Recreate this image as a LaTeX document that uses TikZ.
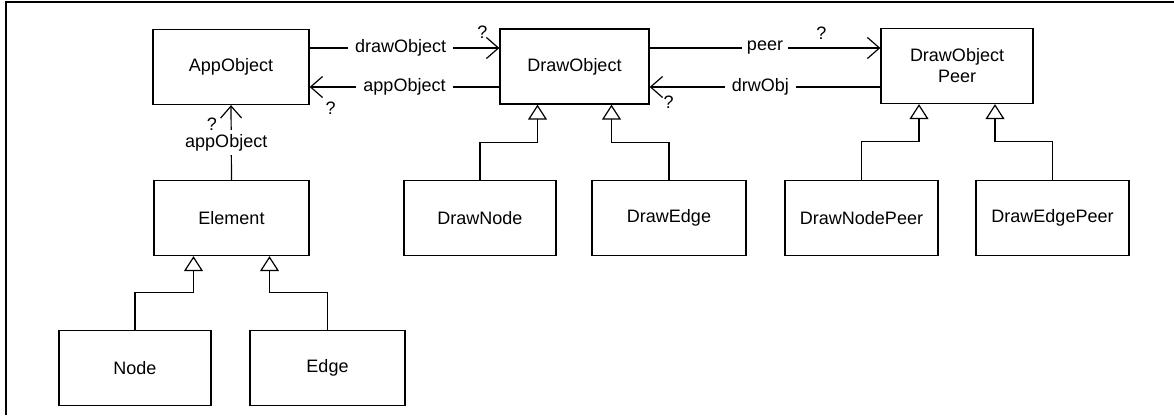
\documentclass[tikz,border=0pt]{standalone}
\usepackage{fontspec}
\setmainfont{Liberation Sans}
\usetikzlibrary{arrows.meta,calc}
\begin{document}
\begin{tikzpicture}[x=1pt,y=-1pt,
  font=\fontsize{18}{21}\selectfont,
  cls/.style={draw, line width=1.3pt, minimum height=75pt, inner sep=2pt, align=center},
  gen/.style={line width=1.2pt, -{Triangle[open,length=15pt,width=19pt,line width=1.2pt]}},
  assoc/.style={line width=1.2pt, -{Straight Barb[length=12pt,width=21pt,line width=1.2pt]}},
  lab/.style={fill=white, inner xsep=7pt, inner ysep=2pt},
  qmark/.style={inner sep=0pt}]
\useasboundingbox (0,0) rectangle (1174,415);

% open frame: top and left edges
\draw[line width=1.8pt] (6,415) -- (6,2) -- (1174,2);

% classes
\node[cls, minimum width=156pt] (app)    at (231,67)    {AppObject};
\node[cls, minimum width=149pt] (dobj)   at (574.5,66.5) {DrawObject};
\node[cls, minimum width=152pt] (peer)   at (957,66)    {DrawObject\\Peer};
\node[cls, minimum width=155pt] (elem)   at (231.5,218) {Element};
\node[cls, minimum width=152pt] (node)   at (135,368)   {Node};
\node[cls, minimum width=155pt] (edge)   at (327.5,368) {Edge};
\node[cls, minimum width=152pt] (dnode)  at (480,218)   {DrawNode};
\node[cls, minimum width=154pt] (dedge)  at (669,218)   {DrawEdge};
\node[cls, minimum width=153pt] (dnpeer) at (861.5,218) {DrawNodePeer};
\node[cls, minimum width=153pt] (depeer) at (1052.5,218) {DrawEdgePeer};

% generalisations
\draw[gen] (node.north)   -- ++(0,-37) -| ($(elem.south)+(-38,0)$);
\draw[gen] (edge.north)   -- ++(0,-37) -| ($(elem.south)+(38,0)$);
\draw[gen] (dnode.north)  -- ++(0,-37) -| ($(dobj.south)+(-37,0)$);
\draw[gen] (dedge.north)  -- ++(0,-37) -| ($(dobj.south)+(37,0)$);
\draw[gen] (dnpeer.north) -- ++(0,-38) -| ($(peer.south)+(-38,0)$);
\draw[gen] (depeer.north) -- ++(0,-38) -| ($(peer.south)+(38,0)$);

% associations
\coordinate (d1) at ($(app.east)+(0,-19)$);
\coordinate (d2) at ($(app.east)+(0,20)$);
\coordinate (p1) at ($(dobj.east)+(0,-18.5)$);
\coordinate (p2) at ($(dobj.east)+(0,20.5)$);

\draw[assoc] (d1) -- node[lab, pos=0.48] {drawObject} (d1 -| dobj.west);
\draw[assoc] (d2 -| dobj.west) -- node[lab] {appObject} (d2);
\draw[assoc] (p1) -- node[lab, inner xsep=5pt] {peer} (p1 -| peer.west);
\draw[assoc] (p2 -| peer.west) -- node[lab, pos=0.52] {drwObj} (p2);
\draw[assoc] (elem.north) -- node[lab, inner xsep=2pt, inner ysep=4pt, xshift=-5pt] {appObject} (app.south);

% multiplicities
\node[qmark] at ($(d1 -| dobj.west)+(-17,-16)$) {?};
\node[qmark] at ($(d2)+(21,21)$) {?};
\node[qmark] at ($(app.south)+(-19,19)$) {?};
\node[qmark] at ($(p1 -| peer.west)+(-59,-15)$) {?};
\node[qmark] at ($(p2)+(19,15)$) {?};
\end{tikzpicture}
\end{document}
